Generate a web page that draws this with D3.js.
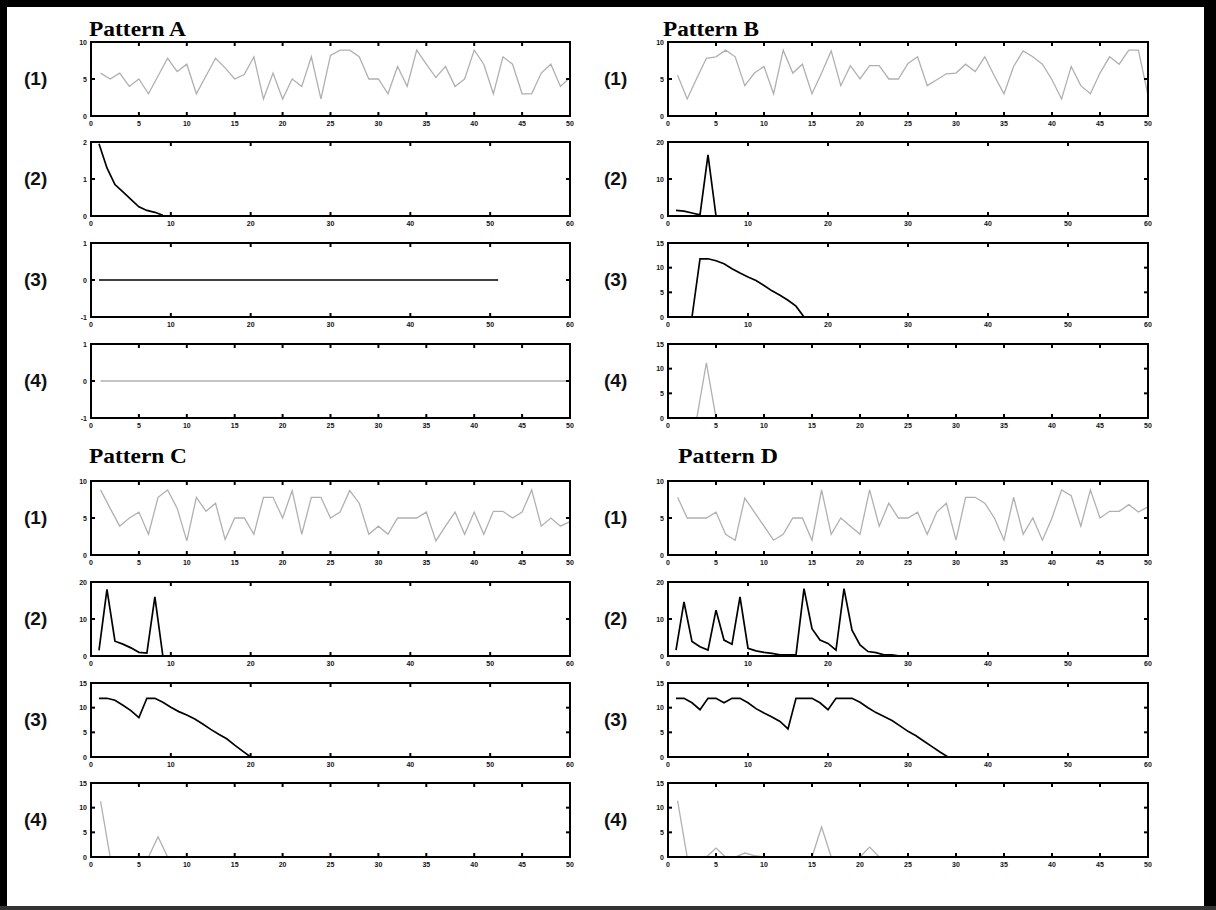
<!DOCTYPE html>
<html>
<head>
<meta charset="utf-8">
<script src="https://d3js.org/d3.v7.min.js"></script>
<style>
  body { margin: 0; background: #fff; }
  .tick-lbl { font-family: "Liberation Sans", Arial, sans-serif; font-size: 7px; font-weight: bold; fill: #111; }
  .row-lbl { font-family: "Liberation Sans", Arial, sans-serif; font-size: 19px; font-weight: bold; fill: #111; }
  .title { font-family: "Liberation Serif", "Times New Roman", serif; font-size: 21px; font-weight: bold; fill: #000; }
</style>
</head>
<body>
<svg id="chart" width="1216" height="910"></svg>
<script>
// ---- data (x runs 1,2,3,... for every series) ----
const patterns = ["Pattern A", "Pattern B", "Pattern C", "Pattern D"];
const rowLabels = ["(1)", "(2)", "(3)", "(4)"];

// x ranges and tick labels per row
const xMax = [50, 60, 60, 50];
const xTicks50 = [0, 5, 10, 15, 20, 25, 30, 35, 40, 45, 50];
const xTicks60 = [0, 10, 20, 30, 40, 50, 60];

// y ranges / ticks per pattern and row
const yDomains = {
  A: [[0, 10], [0, 2], [-1, 1], [-1, 1]],
  B: [[0, 10], [0, 20], [0, 15], [0, 15]],
  C: [[0, 10], [0, 20], [0, 15], [0, 15]],
  D: [[0, 10], [0, 20], [0, 15], [0, 15]]
};
const yTicks = {
  A: [[0, 5, 10], [0, 1, 2], [-1, 0, 1], [-1, 0, 1]],
  B: [[0, 5, 10], [0, 10, 20], [0, 5, 10, 15], [0, 5, 10, 15]],
  C: [[0, 5, 10], [0, 10, 20], [0, 5, 10, 15], [0, 5, 10, 15]],
  D: [[0, 5, 10], [0, 10, 20], [0, 5, 10, 15], [0, 5, 10, 15]]
};

// row (1): input signal
const a1 = [5.8, 5.0, 5.8, 4.0, 5.0, 3.0, 5.4, 7.8, 6.0, 7.0, 3.0, 5.4, 7.8, 6.5, 5.0, 5.6, 8.0, 2.3, 5.8, 2.3,
  5.0, 4.0, 8.0, 2.3, 8.2, 8.9, 8.9, 8.0, 5.0, 5.0, 3.0, 6.7, 4.0, 8.9, 7.0, 5.2, 6.7, 4.0, 5.0, 8.9,
  7.0, 3.0, 8.0, 7.0, 3.0, 3.0, 5.8, 7.0, 4.0, 5.2];
const b1 = [5.5, 2.3, 5.1, 7.8, 8.0, 8.9, 8.0, 4.1, 5.8, 6.7, 3.0, 8.9, 5.8, 7.0, 3.0, 5.8, 8.8, 4.1, 6.8, 5.0,
  6.8, 6.8, 5.0, 5.0, 7.1, 8.0, 4.1, 4.9, 5.7, 5.8, 7.0, 6.0, 8.0, 5.4, 3.0, 6.7, 8.8, 8.0, 7.0, 4.9,
  2.3, 6.7, 4.1, 3.0, 5.8, 8.0, 7.0, 8.9, 8.9, 2.8];
const c1 = [8.8, 6.3, 3.9, 5.0, 5.8, 2.8, 7.8, 8.8, 6.3, 1.9, 7.8, 5.9, 7.0, 2.1, 5.0, 5.0, 2.8, 7.8, 7.8, 5.0,
  8.7, 2.8, 7.8, 7.8, 5.0, 5.8, 8.7, 7.0, 2.8, 3.9, 2.8, 5.0, 5.0, 5.0, 5.8, 1.9, 3.9, 5.8, 2.8, 5.8,
  2.8, 5.9, 5.9, 5.0, 5.8, 8.8, 3.9, 5.0, 3.9, 4.5];
const d1 = [7.8, 5.0, 5.0, 5.0, 5.8, 2.8, 2.0, 7.7, 5.8, 3.9, 2.0, 2.8, 5.0, 5.0, 2.0, 8.8, 2.8, 5.0, 3.9, 2.8,
  8.8, 3.9, 7.0, 5.0, 5.0, 5.8, 2.8, 5.8, 7.0, 2.0, 7.8, 7.8, 7.0, 5.0, 2.0, 7.8, 2.8, 5.0, 2.0, 5.0,
  8.8, 8.0, 3.9, 8.8, 5.0, 5.9, 5.9, 6.8, 5.8, 6.5];

// row (2)
const a2 = [1.95, 1.3, 0.85, 0.65, 0.45, 0.25, 0.15, 0.1, 0.02];
const b2 = [1.5, 1.3, 0.8, 0.3, 16.5, 0];
const c2 = [1.5, 18, 4.0, 3.2, 2.2, 1.0, 0.8, 16, 0];
const d2 = [1.6, 14.6, 3.9, 2.5, 1.6, 12.4, 4.3, 3.2, 16, 2.1, 1.4, 1.0, 0.7, 0.3, 0.3, 0.3, 18.2, 7.4, 4.3, 3.4,
  1.6, 18.2, 7.0, 3.0, 1.2, 0.9, 0.3, 0.3, 0];

// row (3)
const a3 = [0, 0, 0, 0, 0, 0, 0, 0, 0, 0, 0, 0, 0, 0, 0, 0, 0, 0, 0, 0, 0, 0, 0, 0, 0,
  0, 0, 0, 0, 0, 0, 0, 0, 0, 0, 0, 0, 0, 0, 0, 0, 0, 0, 0, 0, 0, 0, 0, 0, 0, 0];
const b3 = [0, 0, 0, 11.8, 11.8, 11.4, 10.8, 9.8, 8.9, 8.1, 7.4, 6.4, 5.3, 4.4, 3.4, 2.2, 0];
const c3 = [11.9, 11.9, 11.5, 10.5, 9.4, 8.0, 11.9, 11.9, 11.1, 10.1, 9.2, 8.5, 7.7, 6.7, 5.6, 4.6, 3.7, 2.4, 1.2, 0];
const d3v = [11.9, 11.9, 11.0, 9.6, 11.9, 11.9, 11.0, 11.9, 11.9, 11.0, 9.8, 8.9, 8.1, 7.2, 5.7, 11.9, 11.9, 11.9,
  11.0, 9.6, 11.9, 11.9, 11.9, 11.1, 10.0, 9.0, 8.2, 7.4, 6.3, 5.2, 4.3, 3.2, 2.1, 1.0, 0];

// row (4)
const a4 = [0, 0, 0, 0, 0, 0, 0, 0, 0, 0, 0, 0, 0, 0, 0, 0, 0, 0, 0, 0, 0, 0, 0, 0, 0,
  0, 0, 0, 0, 0, 0, 0, 0, 0, 0, 0, 0, 0, 0, 0, 0, 0, 0, 0, 0, 0, 0, 0, 0, 0];
const b4 = [0, 0, 0, 11.2, 0, 0, 0, 0];
const c4 = [11.3, 0, 0, 0, 0, 0, 4.1, 0, 0, 0];
const d4 = [11.4, 0, 0, 0, 1.8, 0, 0, 0.8, 0.3, 0, 0, 0, 0, 0, 0, 6.1, 0, 0, 0, 0, 2.0, 0, 0];

const series = {
  A: [a1, a2, a3, a4],
  B: [b1, b2, b3, b4],
  C: [c1, c2, c3, c4],
  D: [d1, d2, d3v, d4]
};
const lineColors = ["#b0b0b0", "#000", "#000", "#b0b0b0"];

// ---- layout ----
const colX = [[91, 570], [668, 1148]];
const blockTops = [[42, 142, 243, 344], [481, 582, 683, 783]];
const boxH = 74;
const titleY = [36, 463];
const titlePos = [[89, 97], [663, 96], [89, 98], [678, 100]]; // left x, text width
const rowLblX = [24, 604];

const svg = d3.select("#chart");
svg.append("rect").attr("width", 1216).attr("height", 910).attr("fill", "#fff");

function drawPanel(key, row, x0, x1, top) {
  const g = svg.append("g");
  const ticksX = xMax[row] == 50 ? xTicks50 : xTicks60;
  const x = d3.scaleLinear().domain([0, xMax[row]]).range([x0, x1]);
  const y = d3.scaleLinear().domain(yDomains[key][row]).range([top + boxH, top]);
  const vals = series[key][row];

  const line = d3.line().x((d, i) => x(i + 1)).y(d => y(d));
  g.append("path")
    .datum(vals)
    .attr("fill", "none")
    .attr("stroke", lineColors[row])
    .attr("stroke-width", row == 0 || row == 3 ? 1.3 : 1.7)
    .attr("d", line);

  // inward ticks on all four sides (matlab style)
  const tl = 4;
  ticksX.forEach(t => {
    g.append("line").attr("x1", x(t)).attr("x2", x(t)).attr("y1", top).attr("y2", top + tl)
      .attr("stroke", "#000").attr("stroke-width", 2);
    g.append("line").attr("x1", x(t)).attr("x2", x(t)).attr("y1", top + boxH).attr("y2", top + boxH - tl)
      .attr("stroke", "#000").attr("stroke-width", 2);
    g.append("text").attr("class", "tick-lbl")
      .attr("x", x(t)).attr("y", top + boxH + 10)
      .attr("text-anchor", "middle").text(t);
  });
  yTicks[key][row].forEach(t => {
    g.append("line").attr("x1", x0).attr("x2", x0 + tl).attr("y1", y(t)).attr("y2", y(t))
      .attr("stroke", "#000").attr("stroke-width", 2);
    g.append("line").attr("x1", x1).attr("x2", x1 - tl).attr("y1", y(t)).attr("y2", y(t))
      .attr("stroke", "#000").attr("stroke-width", 2);
    g.append("text").attr("class", "tick-lbl")
      .attr("x", x0 - 4).attr("y", y(t) + 2.5)
      .attr("text-anchor", "end").text(t);
  });

  g.append("rect")
    .attr("x", x0).attr("y", top)
    .attr("width", x1 - x0).attr("height", boxH)
    .attr("fill", "none").attr("stroke", "#000").attr("stroke-width", 2);
}

patterns.forEach((p, pi) => {
  const key = p.slice(-1);
  const col = pi % 2;
  const block = Math.floor(pi / 2);
  const [x0, x1] = colX[col];

  svg.append("text").attr("class", "title")
    .attr("x", titlePos[pi][0]).attr("y", titleY[block])
    .attr("textLength", titlePos[pi][1])
    .attr("lengthAdjust", "spacingAndGlyphs")
    .text(p);

  rowLabels.forEach((lbl, row) => {
    const top = blockTops[block][row];
    drawPanel(key, row, x0, x1, top);
    svg.append("text").attr("class", "row-lbl")
      .attr("x", rowLblX[col]).attr("y", top + boxH / 2 + 6)
      .text(lbl);
  });
});

// outer frame of the figure
svg.append("rect").attr("x", 0).attr("y", 0).attr("width", 7).attr("height", 910).attr("fill", "#000");
svg.append("rect").attr("x", 0).attr("y", 0).attr("width", 1216).attr("height", 7).attr("fill", "#000");
svg.append("rect").attr("x", 1204).attr("y", 0).attr("width", 12).attr("height", 910).attr("fill", "#000");
svg.append("rect").attr("x", 0).attr("y", 906).attr("width", 1216).attr("height", 4).attr("fill", "#333");
</script>
</body>
</html>
